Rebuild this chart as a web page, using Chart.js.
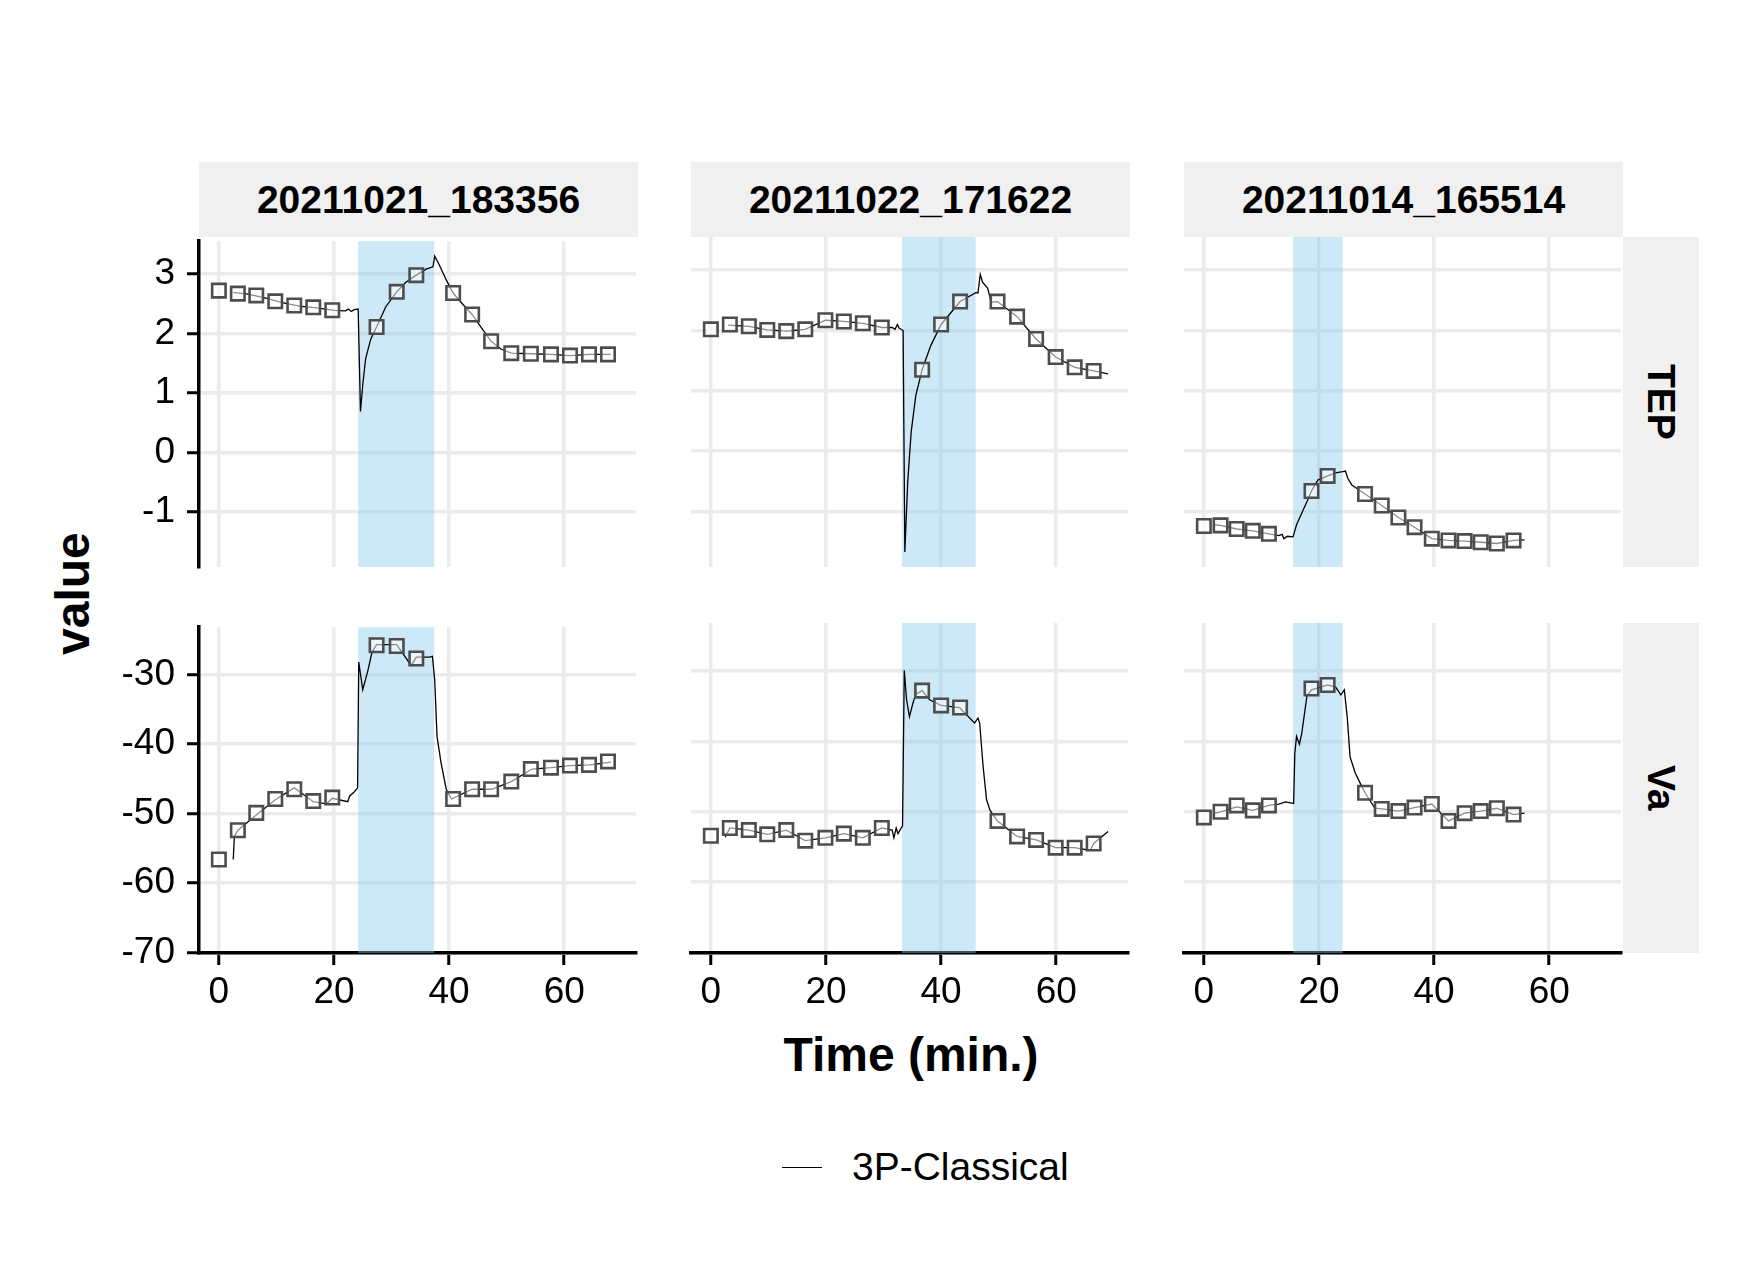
<!DOCTYPE html>
<html>
<head>
<meta charset="utf-8">
<title>TEP / Va traces</title>
<script src="https://cdn.jsdelivr.net/npm/chart.js@4.4.1/dist/chart.umd.min.js"></script>
<style>
    body { margin: 0; background: #fff; }
    #wrap { position: relative; width: 1760px; height: 1280px; font-family: "Liberation Sans", Arial, sans-serif; color: #000; }
    canvas { position: absolute; }
    .strip { position: absolute; background: #f0f0f0; display: flex; align-items: center; justify-content: center; font-weight: bold; font-size: 39px; }
    .strip.right span { writing-mode: vertical-rl; }
    .title { position: absolute; font-weight: bold; font-size: 48px; white-space: nowrap; }
    #legend { position: absolute; left: 782px; top: 1143px; height: 48px; display: flex; align-items: center; font-size: 39px; }
    #legend i { display: inline-block; width: 40px; border-top: 1px solid #000; margin-right: 30px; }
</style>
</head>
<body>
<div id="wrap">
    <div class="title" style="left:13px;top:571px;width:120px;height:48px;line-height:48px;text-align:center;transform:rotate(-90deg);">value</div>
    <div class="title" style="left:611px;top:1028px;width:600px;height:54px;line-height:54px;text-align:center;">Time (min.)</div>
    <div id="legend"><i></i>3P-Classical</div>
</div>

<script>
// facets
const runIds = ['20211021_183356', '20211022_171622', '20211014_165514'];
const rowVars = ['TEP', 'Va'];

// shaded stimulation window per run (min.)
const stimStart = [24.2, 33.2, 15.5];
const stimEnd = [37.4, 46.0, 24.1];

// axes
const xTicks = [0, 20, 40, 60];
const tepTicks = [3, 2, 1, 0, -1];
const vaTicks = [-30, -40, -50, -60, -70];
const xRange = [-3.45, 72.45];
const tepRange = [-1.92, 3.55];
const vaRange = [-70.05, -23.2];

// square markers (sampled points)
const sq1Time = [0, 3.3, 6.5, 9.8, 13.1, 16.4, 19.7, 27.4, 30.9, 34.3, 40.7, 44.0, 47.3, 50.8, 54.2, 57.7, 61.0, 64.3, 67.6];
const sq1Tep = [2.72, 2.67, 2.64, 2.54, 2.47, 2.44, 2.39, 2.11, 2.70, 2.98, 2.68, 2.32, 1.87, 1.67, 1.66, 1.65, 1.63, 1.65, 1.65];
const sq1Va = [-56.6, -52.4, -49.9, -47.9, -46.5, -48.2, -47.7, -25.8, -25.9, -27.7, -47.9, -46.5, -46.5, -45.4, -43.6, -43.4, -43.1, -43.0, -42.5];

const sq2Time = [0, 3.3, 6.6, 9.8, 13.1, 16.4, 19.9, 23.1, 26.4, 29.7, 36.7, 40.0, 43.3, 49.8, 53.2, 56.5, 59.9, 63.2, 66.5];
const sq2Tep = [2.02, 2.10, 2.07, 2.01, 1.99, 2.02, 2.17, 2.15, 2.12, 2.05, 1.35, 2.10, 2.48, 2.48, 2.23, 1.86, 1.56, 1.39, 1.33];
const sq2Va = [-53.4, -52.3, -52.6, -53.2, -52.6, -54.1, -53.7, -53.1, -53.7, -52.3, -32.8, -34.9, -35.2, -51.3, -53.5, -54.0, -55.1, -55.1, -54.5];

const sq3Time = [0, 2.9, 5.7, 8.5, 11.3, 18.7, 21.5, 28.0, 30.9, 33.8, 36.6, 39.6, 42.5, 45.3, 48.1, 50.9, 53.8];
const sq3Tep = [-1.24, -1.23, -1.29, -1.32, -1.37, -0.66, -0.41, -0.71, -0.90, -1.10, -1.26, -1.45, -1.48, -1.49, -1.51, -1.53, -1.48];
const sq3Va = [-50.8, -50.0, -49.1, -49.8, -49.1, -32.5, -32.0, -47.3, -49.6, -49.9, -49.4, -48.9, -51.3, -50.2, -49.9, -49.5, -50.4];

// continuous traces (3P-Classical)
const tr1TepTime = [2.5, 5, 8, 11, 14, 17, 20, 22, 22.5, 23, 23.5, 24.2, 24.6, 25.0, 25.5, 26.4, 27.4, 29, 30.9, 32.5, 34.3, 36, 37.2, 37.5, 38.3, 39.5, 40.7, 42.3, 44.0, 45.6, 47.3, 49, 50.8, 54.2, 57.7, 61, 64.3, 68.1];
const tr1Tep = [2.69, 2.66, 2.60, 2.52, 2.46, 2.43, 2.39, 2.38, 2.41, 2.37, 2.40, 2.41, 0.69, 1.14, 1.58, 1.91, 2.11, 2.45, 2.70, 2.86, 2.98, 3.08, 3.12, 3.30, 3.15, 2.90, 2.68, 2.50, 2.32, 2.10, 1.87, 1.74, 1.67, 1.66, 1.65, 1.63, 1.65, 1.65];
const tr1VaTime = [2.5, 2.7, 3.3, 6.5, 9.8, 13.1, 16.4, 18.7, 19.7, 22.4, 22.7, 23.5, 24.1, 24.3, 25.0, 25.9, 26.6, 27.4, 30.9, 33.4, 34.3, 36.6, 37.1, 37.5, 37.9, 38.6, 39.5, 40.4, 44.0, 47.4, 50.8, 54.4, 57.7, 61.0, 64.4, 68.1];
const tr1Va = [-56.6, -53.3, -52.4, -50.2, -48.0, -46.3, -48.3, -48.6, -47.8, -48.3, -47.5, -46.9, -46.3, -28.2, -32.2, -29.4, -26.8, -25.7, -25.7, -28.7, -27.5, -27.5, -27.4, -30.8, -38.9, -42.7, -46.5, -47.9, -46.5, -46.5, -45.4, -43.6, -43.4, -43.1, -43.0, -42.6];

const tr2TepTime = [3.0, 6.6, 9.8, 13.1, 16.4, 19.9, 23.1, 26.4, 29.7, 31.5, 32.0, 32.4, 32.7, 33.4, 33.7, 34.2, 34.8, 35.6, 36.7, 38.2, 40.0, 43.3, 46.1, 46.4, 46.8, 47.2, 48.1, 48.7, 49.8, 53.2, 56.5, 59.9, 63.2, 66.5, 69.0];
const tr2Tep = [2.09, 2.07, 2.01, 1.99, 2.02, 2.17, 2.15, 2.12, 2.05, 2.05, 2.02, 2.10, 2.04, 2.0, -1.67, -0.51, 0.32, 0.92, 1.35, 1.75, 2.10, 2.48, 2.63, 2.62, 2.93, 2.80, 2.70, 2.47, 2.48, 2.23, 1.86, 1.56, 1.39, 1.33, 1.28];
const tr2VaTime = [2.5, 3.3, 6.6, 9.8, 13.1, 16.4, 19.9, 23.1, 26.4, 29.7, 31.5, 31.8, 32.2, 32.5, 33.3, 33.6, 34.0, 34.5, 35.1, 35.6, 36.7, 38.0, 40.0, 43.2, 45.8, 46.4, 46.7, 47.3, 47.9, 48.5, 49.8, 53.2, 56.5, 59.9, 63.2, 65.9, 66.5, 69.0];
const tr2Va = [-53.6, -52.3, -52.6, -53.2, -52.6, -54.1, -53.7, -53.1, -53.7, -52.3, -52.6, -53.7, -52.3, -53.1, -52.0, -29.9, -34.1, -36.5, -34.6, -33.3, -32.8, -34.1, -34.9, -35.2, -37.4, -36.7, -37.4, -43.6, -48.3, -49.8, -51.3, -53.5, -54.0, -55.1, -55.1, -55.5, -54.5, -52.8];

const tr3TepTime = [1.9, 2.9, 5.7, 8.5, 11.3, 13.0, 13.6, 13.9, 14.5, 15.5, 16.1, 17.0, 17.9, 18.7, 19.8, 21.5, 22.9, 24.1, 24.6, 25.0, 25.7, 26.6, 28.0, 30.9, 33.8, 36.6, 39.6, 42.5, 45.3, 48.1, 50.9, 53.8, 55.7];
const tr3Tep = [-1.22, -1.23, -1.29, -1.32, -1.37, -1.40, -1.38, -1.45, -1.41, -1.42, -1.22, -1.03, -0.84, -0.66, -0.48, -0.41, -0.36, -0.34, -0.33, -0.45, -0.56, -0.62, -0.71, -0.90, -1.10, -1.26, -1.45, -1.48, -1.49, -1.51, -1.53, -1.48, -1.47];
const tr3VaTime = [1.9, 2.9, 5.7, 8.5, 11.3, 13.0, 14.2, 15.5, 15.6, 15.8, 16.1, 16.6, 17.0, 17.9, 18.7, 21.5, 22.9, 23.8, 24.4, 24.9, 25.4, 26.3, 27.2, 28.0, 29.7, 30.9, 33.8, 36.6, 39.6, 42.5, 45.3, 48.1, 50.9, 53.8, 55.7];
const tr3Va = [-50.2, -50.0, -49.3, -49.8, -49.1, -48.9, -48.6, -48.8, -48.6, -41.7, -39.3, -40.4, -38.9, -33.6, -32.7, -32.0, -32.3, -33.4, -32.7, -36.5, -42.2, -44.5, -46.0, -47.3, -49.5, -49.6, -49.9, -49.4, -48.9, -51.3, -50.2, -49.9, -49.5, -50.4, -50.2];

// layout of the facet grid (px)
const panelLeft = [199, 691, 1184];
const panelTop = [237, 623];
const panelW = 439, panelH = 330;
const yAxisW = 100, xAxisH = 70, padTop = 30, padRight = 10;
const FONT = '"Liberation Sans", Arial, sans-serif';

const squares = [
    [sq1Time, sq1Tep, sq1Va],
    [sq2Time, sq2Tep, sq2Va],
    [sq3Time, sq3Tep, sq3Va]
];
const traces = [
    [tr1TepTime, tr1Tep, tr1VaTime, tr1Va],
    [tr2TepTime, tr2Tep, tr2VaTime, tr2Va],
    [tr3TepTime, tr3Tep, tr3VaTime, tr3Va]
];

function zip(xs, ys) {
    return xs.map((x, i) => ({ x: x, y: ys[i] }));
}

// shaded window, placed through the x scale
const stimPlugin = {
    id: 'stim',
    beforeDatasetsDraw(chart, args, opts) {
        const { ctx, chartArea, scales } = chart;
        const x0 = scales.x.getPixelForValue(opts.from);
        const x1 = scales.x.getPixelForValue(opts.to);
        ctx.save();
        ctx.fillStyle = 'rgba(135, 200, 235, 0.42)';
        ctx.fillRect(x0, chartArea.top, x1 - x0, chartArea.bottom - chartArea.top);
        ctx.restore();
    }
};

const wrap = document.getElementById('wrap');

function addStrip(left, top, w, h, text, right) {
    const d = document.createElement('div');
    d.className = 'strip' + (right ? ' right' : '');
    d.style.left = left + 'px';
    d.style.top = top + 'px';
    d.style.width = w + 'px';
    d.style.height = h + 'px';
    d.innerHTML = '<span>' + text + '</span>';
    wrap.appendChild(d);
}

function makePanel(col, row) {
    const isLeft = col === 0;
    const isBottom = row === 1;
    const canvas = document.createElement('canvas');
    const cw = yAxisW + panelW + padRight;
    const ch = padTop + panelH + xAxisH;
    canvas.width = cw;
    canvas.height = ch;
    canvas.style.left = (panelLeft[col] - yAxisW) + 'px';
    canvas.style.top = (panelTop[row] - padTop) + 'px';
    canvas.style.width = cw + 'px';
    canvas.style.height = ch + 'px';
    wrap.appendChild(canvas);

    const sq = squares[col];
    const tr = traces[col];
    const sqData = zip(sq[0], row === 0 ? sq[1] : sq[2]);
    const trData = row === 0 ? zip(tr[0], tr[1]) : zip(tr[2], tr[3]);
    const yTicks = row === 0 ? tepTicks : vaTicks;
    const yRange = row === 0 ? tepRange : vaRange;

    new Chart(canvas.getContext('2d'), {
        type: 'line',
        data: {
            datasets: [{
                label: 'samples',
                data: sqData,
                order: 0,
                showLine: false,
                pointStyle: 'rect',
                pointRadius: 9.5,
                pointBorderColor: '#4d4d4d',
                pointBorderWidth: 2.6,
                pointBackgroundColor: 'rgba(255,255,255,0.55)'
            }, {
                label: '3P-Classical',
                data: trData,
                order: 1,
                borderColor: '#000',
                borderWidth: 1.3,
                pointRadius: 0,
                tension: 0
            }]
        },
        options: {
            responsive: false,
            animation: false,
            events: [],
            devicePixelRatio: 1,
            layout: { padding: { top: padTop, right: padRight, left: 0, bottom: 0 } },
            plugins: {
                legend: { display: false },
                tooltip: { enabled: false },
                stim: { from: stimStart[col], to: stimEnd[col] }
            },
            scales: {
                x: {
                    type: 'linear',
                    min: xRange[0],
                    max: xRange[1],
                    afterBuildTicks: s => { s.ticks = xTicks.map(v => ({ value: v })); },
                    afterFit: s => { s.height = xAxisH; },
                    grid: { color: '#ebebeb', lineWidth: 3.5, drawTicks: isBottom, tickColor: '#000', tickLength: 12, tickWidth: 3 },
                    border: { display: isBottom, color: '#000', width: 3.5 },
                    ticks: { display: isBottom, color: '#000', font: { family: FONT, size: 37 }, padding: 6, maxRotation: 0 }
                },
                y: {
                    type: 'linear',
                    min: yRange[0],
                    max: yRange[1],
                    afterBuildTicks: s => { s.ticks = yTicks.map(v => ({ value: v })); },
                    afterFit: s => { s.width = yAxisW; },
                    grid: { color: '#ebebeb', lineWidth: 3.5, drawTicks: isLeft, tickColor: '#000', tickLength: 12, tickWidth: 3 },
                    border: { display: isLeft, color: '#000', width: 3.5 },
                    ticks: { display: isLeft, color: '#000', font: { family: FONT, size: 37 }, padding: 12 }
                }
            }
        },
        plugins: [stimPlugin]
    });
}

runIds.forEach((id, col) => {
    addStrip(panelLeft[col], 162, panelW, 75, id, false);
});
rowVars.forEach((v, row) => {
    addStrip(panelLeft[2] + panelW, panelTop[row], 76, panelH, v, true);
});

for (let row = 0; row < 2; row++) {
    for (let col = 0; col < 3; col++) {
        makePanel(col, row);
    }
}
</script>
</body>
</html>
